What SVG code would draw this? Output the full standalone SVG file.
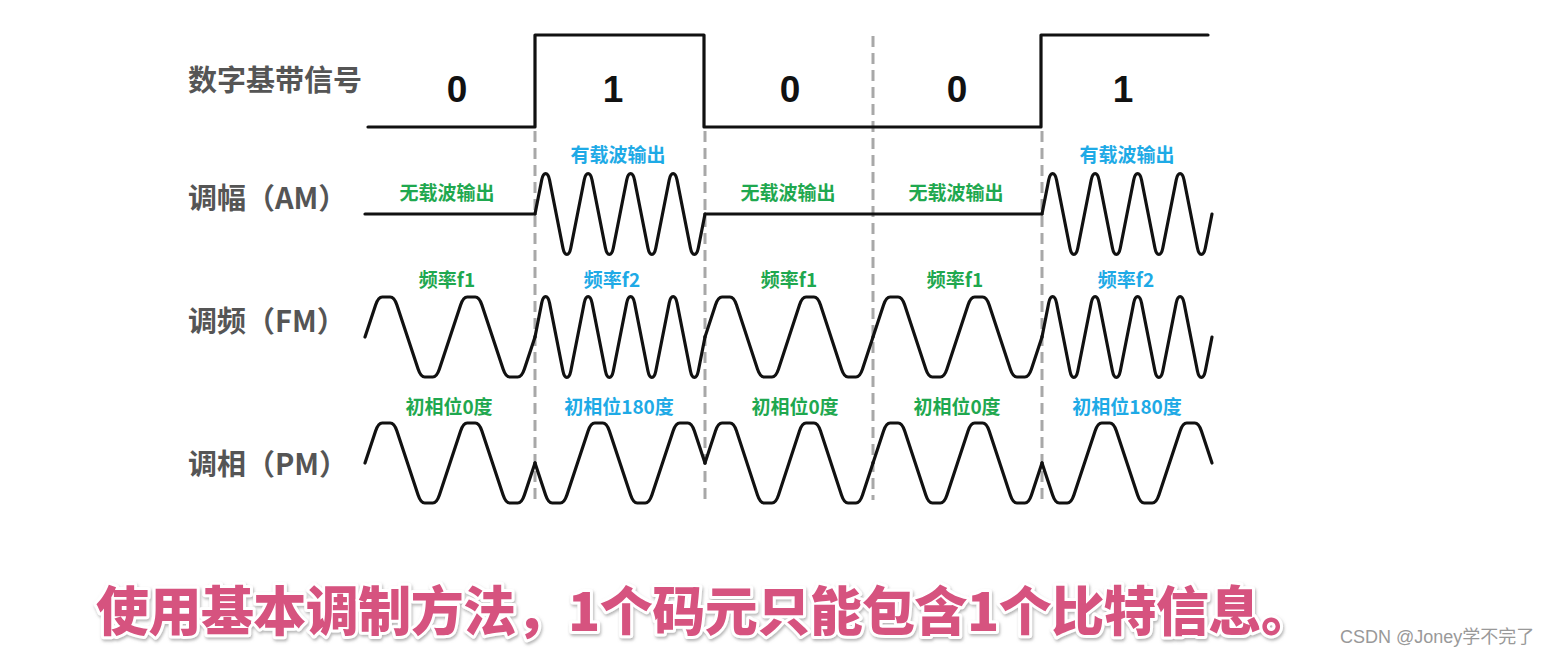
<svg xmlns="http://www.w3.org/2000/svg" xmlns:xlink="http://www.w3.org/1999/xlink" width="1550" height="655" viewBox="0 0 1550 655">
  <style>
    .sig { fill: none; stroke: #111; stroke-width: 3.2; stroke-linecap: round; stroke-linejoin: round; }
    .dash { fill: none; stroke: #a8a8a8; stroke-width: 3; stroke-dasharray: 11 6; }
    .rowlab { font-family: "Noto Sans CJK SC", "Liberation Sans", sans-serif; font-weight: bold; font-size: 29px; fill: #555; }
    .bit { font-family: "Liberation Sans", Arial, sans-serif; font-weight: bold; font-size: 37px; fill: #111; text-anchor: middle; }
    .g { font-family: "Noto Sans CJK SC", "Liberation Sans", sans-serif; font-weight: bold; font-size: 19px; fill: #1fa84f; text-anchor: middle; }
    .b { font-family: "Noto Sans CJK SC", "Liberation Sans", sans-serif; font-weight: bold; font-size: 19px; fill: #1eaae6; text-anchor: middle; }
    .cap { font-family: "Noto Sans CJK SC", "Liberation Sans", sans-serif; font-weight: 900; font-size: 53px; fill: #d6527f; stroke: #fff; stroke-width: 6; paint-order: stroke; stroke-linejoin: round; }
    .wm { font-family: "Liberation Sans", "Noto Sans CJK SC", sans-serif; font-size: 18px; fill: #999; }
  </style>
  <defs>
    <filter id="shadow" x="-5%" y="-30%" width="110%" height="160%">
      <feDropShadow dx="1" dy="2" stdDeviation="1.5" flood-color="#777" flood-opacity="0.55"/>
    </filter>
    <!-- frequency f1, 2 cycles per bit, starting at midline rising -->
    <path id="f1u" class="sig" d="M0,0
      l 10.6,-32 q 2.65,-8 6.65,-8 l 8,0 q 4,0 6.65,8 l 21.2,64 q 2.65,8 6.65,8 l 8,0 q 4,0 6.65,-8 l 10.6,-32
      l 10.6,-32 q 2.65,-8 6.65,-8 l 8,0 q 4,0 6.65,8 l 21.2,64 q 2.65,8 6.65,8 l 8,0 q 4,0 6.65,-8 l 10.6,-32"/>
    <!-- frequency f1, phase 180 degrees -->
    <path id="f1d" class="sig" d="M0,0
      l 10.6,32 q 2.65,8 6.65,8 l 8,0 q 4,0 6.65,-8 l 21.2,-64 q 2.65,-8 6.65,-8 l 8,0 q 4,0 6.65,8 l 10.6,32
      l 10.6,32 q 2.65,8 6.65,8 l 8,0 q 4,0 6.65,-8 l 21.2,-64 q 2.65,-8 6.65,-8 l 8,0 q 4,0 6.65,8 l 10.6,32"/>
    <!-- frequency f2, 4 cycles per bit -->
    <path id="f2u" class="sig" d="M0,0
      l 6.7,-34 c 1.68,-8.5 6.17,-8.5 7.85,0 l 13.4,68 c 1.68,8.5 6.17,8.5 7.85,0 l 6.7,-34
      l 6.7,-34 c 1.68,-8.5 6.17,-8.5 7.85,0 l 13.4,68 c 1.68,8.5 6.17,8.5 7.85,0 l 6.7,-34
      l 6.7,-34 c 1.68,-8.5 6.17,-8.5 7.85,0 l 13.4,68 c 1.68,8.5 6.17,8.5 7.85,0 l 6.7,-34
      l 6.7,-34 c 1.68,-8.5 6.17,-8.5 7.85,0 l 13.4,68 c 1.68,8.5 6.17,8.5 7.85,0 l 6.7,-34"/>
  </defs>

  <rect x="0" y="0" width="1550" height="655" fill="#fff"/>

  <!-- bit boundaries -->
  <g id="connectors">
    <line class="dash" x1="535" y1="131" x2="535" y2="500"/>
    <line class="dash" x1="705" y1="131" x2="705" y2="500"/>
    <line class="dash" x1="873" y1="36" x2="873" y2="500"/>
    <line class="dash" x1="1042" y1="131" x2="1042" y2="500"/>
  </g>

  <!-- row labels -->
  <g id="labels">
    <text class="rowlab" x="188" y="91">数字基带信号</text>
    <text class="rowlab" x="188" y="209">调幅（AM）</text>
    <text class="rowlab" x="188" y="332">调频（FM）</text>
    <text class="rowlab" x="188" y="475">调相（PM）</text>
  </g>

  <!-- digital baseband signal -->
  <g id="digital">
    <path class="sig" d="M368,127 H535 V35 H704 V127 H1041 V35 H1208"/>
    <text class="bit" x="457" y="102">0</text>
    <text class="bit" x="613" y="102">1</text>
    <text class="bit" x="790" y="102">0</text>
    <text class="bit" x="957" y="102">0</text>
    <text class="bit" x="1123" y="102">1</text>
  </g>

  <!-- AM -->
  <g id="am">
    <path class="sig" d="M365,214 H535"/>
    <use xlink:href="#f2u" href="#f2u" transform="translate(535,214)"/>
    <path class="sig" d="M705,214 H1042"/>
    <use xlink:href="#f2u" href="#f2u" transform="translate(1042,214)"/>
    <text class="g" x="447" y="200">无载波输出</text>
    <text class="b" x="618" y="162">有载波输出</text>
    <text class="g" x="788" y="200">无载波输出</text>
    <text class="g" x="956" y="200">无载波输出</text>
    <text class="b" x="1127" y="162">有载波输出</text>
  </g>

  <!-- FM -->
  <g id="fm">
    <use xlink:href="#f1u" href="#f1u" transform="translate(365,337)"/>
    <use xlink:href="#f2u" href="#f2u" transform="translate(535,337)"/>
    <use xlink:href="#f1u" href="#f1u" transform="translate(705,337) scale(0.98824,1)"/>
    <use xlink:href="#f1u" href="#f1u" transform="translate(873,337) scale(0.99412,1)"/>
    <use xlink:href="#f2u" href="#f2u" transform="translate(1042,337)"/>
    <text class="g" x="447" y="287">频率f1</text>
    <text class="b" x="612" y="287">频率f2</text>
    <text class="g" x="789" y="287">频率f1</text>
    <text class="g" x="955" y="287">频率f1</text>
    <text class="b" x="1126" y="287">频率f2</text>
  </g>

  <!-- PM -->
  <g id="pm">
    <use xlink:href="#f1u" href="#f1u" transform="translate(365,463)"/>
    <use xlink:href="#f1d" href="#f1d" transform="translate(535,463)"/>
    <use xlink:href="#f1u" href="#f1u" transform="translate(705,463) scale(0.98824,1)"/>
    <use xlink:href="#f1u" href="#f1u" transform="translate(873,463) scale(0.99412,1)"/>
    <use xlink:href="#f1d" href="#f1d" transform="translate(1042,463)"/>
    <text class="g" x="449" y="414">初相位0度</text>
    <text class="b" x="619" y="414">初相位180度</text>
    <text class="g" x="795" y="414">初相位0度</text>
    <text class="g" x="957" y="414">初相位0度</text>
    <text class="b" x="1127" y="414">初相位180度</text>
  </g>

  <!-- caption -->
  <g id="caption">
    <text class="cap" x="96" y="631" textLength="1218" lengthAdjust="spacing" filter="url(#shadow)">使用基本调制方法，1个码元只能包含1个比特信息。</text>
    <text class="wm" x="1340" y="643">CSDN @Joney学不完了</text>
  </g>
</svg>
